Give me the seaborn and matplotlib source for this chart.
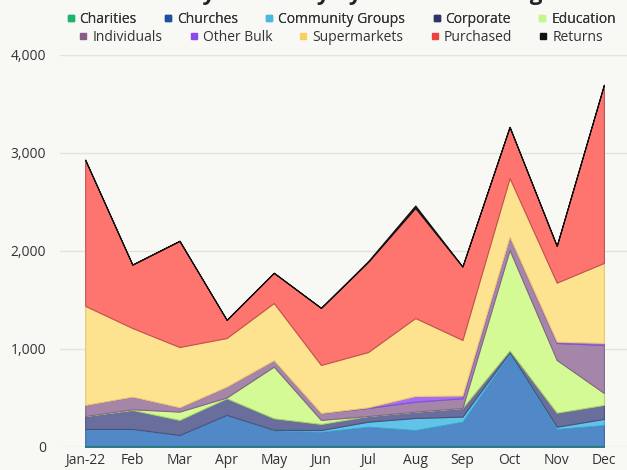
import matplotlib
matplotlib.use("Agg")
import matplotlib.pyplot as plt
from matplotlib.lines import Line2D
import numpy as np
import seaborn as sns

# miesiace
months = ["Jan-22", "Feb", "Mar", "Apr", "May", "Jun", "Jul", "Aug", "Sep", "Oct", "Nov", "Dec"]

# wartosci (kg / szt.)
charities = [10, 10, 10, 10, 10, 10, 10, 10, 10, 10, 10, 10]
churches = [174, 174, 112, 317, 160, 145, 197, 163, 248, 939, 174, 214]
community_groups = [0, 0, 0, 0, 5, 18, 51, 123, 52, 16, 23, 62]
corporate = [132, 194, 154, 170, 118, 62, 58, 65, 88, 20, 143, 143]
education = [0, 7, 85, 8, 527, 41, 0, 0, 0, 1025, 538, 122]
individuals = [113, 129, 44, 111, 65, 71, 82, 102, 99, 136, 173, 490]
other_bulk = [0, 0, 0, 0, 0, 0, 7, 57, 28, 0, 14, 20]
supermarkets = [1011, 700, 615, 496, 584, 490, 564, 796, 567, 599, 602, 817]
purchased = [1490, 646, 1082, 184, 307, 581, 919, 1123, 748, 520, 374, 1816]
returns = [3, 3, 3, 3, 3, 3, 8, 25, 3, 3, 3, 3]

names = ["Charities", "Churches", "Community Groups", "Corporate", "Education",
         "Individuals", "Other Bulk", "Supermarkets", "Purchased", "Returns"]
series = [charities, churches, community_groups, corporate, education,
          individuals, other_bulk, supermarkets, purchased, returns]

area_colors = ["#2bb673", "#5088c8", "#62c3e8", "#6a6e9c", "#d4fa96",
               "#a585a8", "#a56cf5", "#fde38f", "#fe7570", "#222222"]
edge_colors = ["#1c8f58", "#3a6aa8", "#3fa6cf", "#4b4f7a", "#a9d46c",
               "#85668a", "#8550d8", "#e8c86a", "#c05050", "#111111"]
legend_colors = ["#1db56b", "#1f4fa0", "#4ab8e0", "#2d3566", "#c6f58a",
                 "#8a5a88", "#8a4af0", "#f8d060", "#ef4040", "#111111"]

bg = "#f8f9f5"
sns.set_theme(style="whitegrid")
plt.rcParams["font.family"] = ["Open Sans", "DejaVu Sans"]

fig = plt.figure(figsize=(6.27, 4.70), dpi=100, facecolor=bg)
ax = fig.add_axes([0.096, 0.049, 0.904, 0.834], facecolor=bg)

x = np.arange(len(months))
polys = ax.stackplot(x, *series, colors=area_colors, zorder=3)
for p, ec in zip(polys, edge_colors):
    p.set_edgecolor(ec)
    p.set_linewidth(0.8)

ax.set_xlim(-0.53, 11.49)
ax.set_ylim(0, 4000)
ax.set_yticks([0, 1000, 2000, 3000, 4000])
ax.set_yticklabels(["0", "1,000", "2,000", "3,000", "4,000"])
ax.set_xticks(x)
ax.set_xticklabels(months)
ax.tick_params(axis="both", labelsize=10, colors="#333333", length=0)
ax.tick_params(axis="y", pad=10)
ax.tick_params(axis="x", pad=4)
ax.grid(axis="y", color="#e2e3de", linewidth=1)
ax.grid(axis="x", visible=False)
for s in ax.spines.values():
    s.set_visible(False)

# tytul (uciety u gory jak na oryginale)
fig.text(0.53, 1.012, "Monthly Inventory by Source Tracking", ha="center", va="center",
         fontsize=16, fontweight="bold", color="#222222")

# legenda w dwoch wierszach
def make_handles(idx):
    return [Line2D([0], [0], marker="s", linestyle="", markersize=5,
                   markerfacecolor=legend_colors[i], markeredgecolor=legend_colors[i])
            for i in idx]

row1 = [0, 1, 2, 3, 4]
row2 = [5, 6, 7, 8, 9]
leg1 = fig.legend(make_handles(row1), [names[i] for i in row1], loc="center",
                  bbox_to_anchor=(0.543, 0.959), ncol=5, frameon=False, fontsize=10,
                  handletextpad=0.25, columnspacing=1.85, handlelength=0.8,
                  labelcolor="#333333")
leg2 = fig.legend(make_handles(row2), [names[i] for i in row2], loc="center",
                  bbox_to_anchor=(0.543, 0.921), ncol=5, frameon=False, fontsize=10,
                  handletextpad=0.25, columnspacing=1.85, handlelength=0.8,
                  labelcolor="#333333")
fig.add_artist(leg1)

fig.savefig("out.png", dpi=100, facecolor=bg)
